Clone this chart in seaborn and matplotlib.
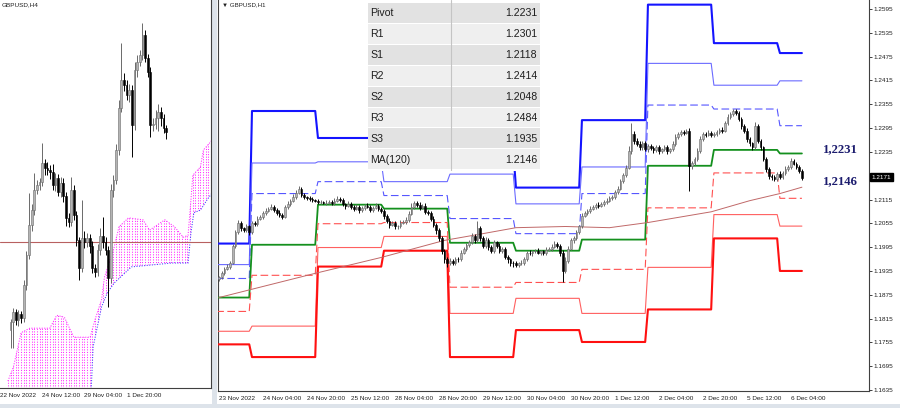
import numpy as np
import matplotlib
matplotlib.use("Agg")
import matplotlib.pyplot as plt
import matplotlib.transforms as mtransforms
from matplotlib.patches import Rectangle
import seaborn as sns

# ---- H1 chart (right), bar 0 = 23 Nov 12:00 ----
h1_open0 = 1.1915
h1_close = [
    1.1919, 1.1931, 1.1941, 1.1946, 1.1956, 1.1999, 1.2032, 1.2057, 1.2042, 1.2037, 1.2047, 1.2032,
    1.2057, 1.2054, 1.2067, 1.2072, 1.2082, 1.2087, 1.2092, 1.2097, 1.2089, 1.2082, 1.2077, 1.2072,
    1.2097, 1.2104, 1.2112, 1.2122, 1.2132, 1.2142, 1.2127, 1.2122, 1.2119, 1.2117, 1.2114, 1.2112,
    1.2109, 1.2109, 1.2107, 1.2107, 1.2109, 1.2107, 1.2112, 1.2117, 1.2114, 1.2104, 1.2099, 1.2104,
    1.2097, 1.2092, 1.2097, 1.2089, 1.2094, 1.2099, 1.2097, 1.2089, 1.2094, 1.2099, 1.2092, 1.2087,
    1.2074, 1.2062, 1.2052, 1.2057, 1.2047, 1.2049, 1.2057, 1.2059, 1.2064, 1.2079, 1.2097, 1.2107,
    1.2102, 1.2094, 1.2099, 1.2084, 1.2082, 1.2067, 1.2052, 1.2037, 1.2017, 1.1986, 1.1966, 1.1956,
    1.1961, 1.1956, 1.1966, 1.1964, 1.1981, 1.1991, 1.2001, 1.2007, 1.2022, 1.2012, 1.2042, 1.2017,
    1.1999, 1.2012, 1.1996, 1.1986, 1.2007, 1.1999, 1.1986, 1.1991, 1.1971, 1.1964, 1.1956, 1.1954,
    1.1951, 1.1954, 1.1956, 1.1966, 1.1981, 1.1979, 1.1984, 1.1986, 1.1981, 1.1984, 1.1979, 1.1989,
    1.1991, 1.1996, 1.2004, 1.1999, 1.1981, 1.1936, 1.1961, 1.1991, 1.2012, 1.2017, 1.2032, 1.2047,
    1.2074, 1.2082, 1.2087, 1.2092, 1.2097, 1.2102, 1.2099, 1.2104, 1.2109, 1.2112, 1.2119, 1.2122,
    1.2134, 1.2142, 1.2162, 1.2177, 1.2195, 1.2237, 1.2280, 1.2263, 1.2255, 1.2247, 1.2257, 1.2242,
    1.2250, 1.2245, 1.2240, 1.2247, 1.2237, 1.2242, 1.2247, 1.2237, 1.2242, 1.2255, 1.2273, 1.2280,
    1.2285, 1.2283, 1.2288, 1.2200, 1.2207, 1.2217, 1.2237, 1.2268, 1.2280, 1.2278, 1.2283, 1.2278,
    1.2280, 1.2285, 1.2290, 1.2288, 1.2308, 1.2323, 1.2330, 1.2338, 1.2333, 1.2318, 1.2300, 1.2288,
    1.2268, 1.2257, 1.2247, 1.2300, 1.2263, 1.2247, 1.2217, 1.2192, 1.2175, 1.2172, 1.2167, 1.2180,
    1.2172, 1.2182, 1.2192, 1.2197, 1.2212, 1.2205, 1.2197, 1.2187, 1.2170,
]
# wick lengths in pips
h1_wick_up = [
    4, 5, 3, 6, 4, 5, 6, 7, 5, 4, 6, 5,
    5, 4, 6, 5, 4, 6, 5, 7, 4, 5, 6, 4,
    5, 6, 4, 6, 7, 8, 5, 4, 3, 4, 5, 3,
    4, 5, 3, 6, 4, 5, 6, 7, 4, 5, 3, 6,
    5, 4, 6, 3, 5, 4, 6, 5, 4, 6, 5, 3,
    5, 4, 6, 5, 4, 3, 6, 5, 7, 6, 8, 5,
    4, 6, 5, 7, 4, 5, 6, 4, 5, 6, 4, 5,
    6, 4, 5, 3, 6, 5, 4, 6, 8, 7, 20, 6,
    5, 9, 6, 5, 7, 4, 6, 5, 4, 5, 3, 4,
    5, 4, 6, 5, 4, 6, 5, 4, 6, 5, 4, 6,
    5, 6, 7, 5, 4, 6, 8, 6, 5, 6, 7, 5,
    6, 5, 4, 6, 5, 4, 6, 5, 4, 6, 5, 4,
    6, 7, 5, 6, 8, 12, 28, 8, 6, 7, 5, 6,
    5, 6, 4, 5, 6, 4, 5, 6, 4, 7, 6, 5,
    4, 6, 5, 8, 6, 5, 7, 6, 5, 6, 7, 5,
    4, 6, 5, 7, 6, 8, 5, 6, 4, 5, 6, 5,
    6, 5, 4, 10, 6, 5, 4, 6, 5, 4, 6, 5,
    6, 5, 7, 6, 8, 5, 4, 6, 5,
]
h1_wick_dn = [
    5, 4, 6, 3, 5, 4, 6, 5, 7, 4, 5, 6,
    4, 6, 5, 4, 6, 5, 4, 3, 6, 5, 7, 5,
    4, 5, 6, 4, 5, 3, 6, 5, 4, 6, 5, 4,
    5, 6, 4, 5, 3, 6, 5, 4, 6, 5, 7, 4,
    6, 5, 4, 7, 5, 6, 4, 5, 6, 4, 5, 6,
    7, 6, 8, 5, 6, 7, 5, 4, 5, 6, 4, 5,
    6, 5, 4, 6, 5, 7, 6, 8, 7, 8, 10, 12,
    6, 7, 5, 6, 5, 4, 6, 5, 4, 6, 5, 7,
    6, 5, 7, 6, 5, 6, 5, 7, 6, 10, 9, 10,
    6, 5, 4, 6, 5, 4, 6, 5, 4, 6, 5, 4,
    5, 6, 4, 7, 8, 30, 6, 5, 4, 6, 5, 4,
    5, 4, 6, 5, 4, 6, 5, 4, 6, 5, 4, 5,
    6, 5, 4, 6, 5, 4, 7, 9, 6, 8, 7, 6,
    7, 6, 8, 5, 7, 6, 5, 8, 6, 5, 4, 5,
    6, 5, 4, 63, 8, 6, 5, 4, 6, 5, 4, 6,
    5, 6, 4, 5, 4, 6, 5, 4, 6, 5, 7, 6,
    7, 6, 8, 5, 6, 7, 6, 8, 9, 7, 6, 5,
    6, 5, 4, 6, 5, 4, 6, 5, 5,
]

# daily pivot levels (23 Nov ... 6 Dec), first bar of each day
day_start = [-1, 12, 36, 60, 84, 108, 132, 156, 180, 204]
last_bar = 212
lvl_p = [1.1868, 1.2001, 1.2102, 1.2092, 1.2006, 1.1986, 1.2014, 1.2200, 1.2240, 1.2231]
lvl_r1 = [1.1916, 1.2130, 1.2160, 1.2125, 1.2067, 1.2029, 1.2130, 1.2353, 1.2343, 1.2301]
lvl_r2 = [1.1951, 1.2207, 1.2210, 1.2160, 1.2179, 1.2104, 1.2197, 1.2458, 1.2403, 1.2414]
lvl_r3 = [1.2004, 1.2338, 1.2270, 1.2193, 1.2240, 1.2145, 1.2315, 1.2606, 1.2509, 1.2484]
lvl_s1 = [1.1833, 1.1924, 1.2054, 1.2057, 1.1894, 1.1906, 1.1939, 1.2094, 1.2182, 1.2118]
lvl_s2 = [1.1783, 1.1796, 1.1994, 1.2022, 1.1828, 1.1866, 1.1828, 1.1944, 1.2077, 1.2048]
lvl_s3 = [1.1750, 1.1718, 1.1946, 1.1986, 1.1718, 1.1786, 1.1756, 1.1838, 1.2017, 1.1935]

# MA(120) read at a few bars
ma_bar = [0, 35, 59, 82, 96, 108, 126, 142, 156, 179, 193, 204, 212]
ma_val = [1.1868, 1.1929, 1.1969, 1.2012, 1.2029, 1.2044, 1.2047, 1.2044, 1.2057, 1.2084, 1.2112, 1.2130, 1.2146]

h1_ticks = [0, 16, 32, 48, 64, 80, 96, 112, 128, 144, 160, 176, 192, 208]
h1_labels = ["23 Nov 2022", "24 Nov 04:00", "24 Nov 20:00", "25 Nov 12:00", "28 Nov 04:00",
             "28 Nov 20:00", "29 Nov 12:00", "30 Nov 04:00", "30 Nov 20:00", "1 Dec 12:00",
             "2 Dec 04:00", "2 Dec 20:00", "5 Dec 12:00", "6 Dec 04:00"]
# 1.2175 sits under the current price tag, so it is not labelled
price_ticks = [1.2595, 1.2535, 1.2475, 1.2415, 1.2355, 1.2295, 1.2235, 1.2115,
               1.2055, 1.1995, 1.1935, 1.1875, 1.1815, 1.1755, 1.1695, 1.1635]
last_price = 1.2171

table_names = ["Pivot", "R1", "S1", "R2", "S2", "R3", "S3", "MA(120)"]
table_values = ["1.2231", "1.2301", "1.2118", "1.2414", "1.2048", "1.2484", "1.1935", "1.2146"]

# ---- H4 chart (left), bar 44 = 1 Dec 20:00 ----
h4_open0 = 1.1869
h4_close = [
    1.1882, 1.1897, 1.1885, 1.1894, 1.1888, 1.1939, 1.1985, 1.2032, 1.2055, 1.2086,
    1.2094, 1.2099, 1.2128, 1.2120, 1.2117, 1.2114, 1.2094, 1.2105, 1.2083, 1.2097,
    1.2077, 1.2043, 1.2037, 1.2086, 1.2047, 1.2009, 1.1965, 1.2012, 1.2006, 1.2012,
    1.1999, 1.1965, 1.1959, 1.1993, 1.2015, 1.2006, 1.1993, 1.1950, 1.2086, 1.2102,
    1.2148, 1.2213, 1.2257, 1.2249, 1.2233, 1.2241, 1.2187, 1.2272, 1.2285, 1.2295,
    1.2326, 1.2291, 1.2269, 1.2187, 1.2188, 1.2198, 1.2207, 1.2198, 1.2182, 1.2176,
]
h4_wick_up = [4, 6, 5, 6, 4, 8, 6, 50, 10, 26, 8, 6, 31, 6, 10, 8, 12, 8, 6, 10,
              8, 6, 8, 20, 8, 6, 5, 59, 10, 8, 6, 8, 6, 10, 12, 29, 8, 6, 10, 8,
              10, 12, 57, 10, 8, 10, 8, 12, 10, 8, 19, 8, 6, 8, 10, 12, 12, 8, 6, 5]
h4_wick_dn = [28, 40, 8, 10, 8, 6, 8, 6, 10, 8, 6, 8, 6, 10, 8, 10, 8, 10, 6, 8,
              10, 12, 8, 6, 8, 10, 19, 6, 10, 8, 10, 8, 8, 6, 8, 10, 8, 45, 8, 10,
              6, 8, 6, 10, 8, 10, 50, 8, 10, 6, 8, 6, 8, 19, 10, 8, 20, 12, 8, 10]
h4_ticks = [-4, 12, 28, 44]
h4_labels = ["22 Nov 2022", "24 Nov 12:00", "29 Nov 04:00", "1 Dec 20:00"]
h4_hline = 1.2006

# Ichimoku cloud edges
kumo_top_bar = [-1, 1.1, 4, 7.3, 14.9, 17.5, 20.4, 24, 30.2, 32, 34.5, 35.6, 39.3, 41.1,
                44.7, 50.2, 52.7, 58.5, 62.2, 65.5, 67.3, 68.4, 69.1, 72, 73.1, 76.5]
kumo_top_val = [1.1790, 1.1812, 1.1865, 1.1872, 1.1872, 1.1892, 1.1889, 1.1858, 1.1858,
                1.1885, 1.1916, 1.1951, 1.1998, 1.2029, 1.2043, 1.2040, 1.2024, 1.2040,
                1.2029, 1.2013, 1.2016, 1.2071, 1.2109, 1.2122, 1.2148, 1.2164]
kumo_bot_bar = [-1, 29, 30.5, 31.3, 34.5, 36.7, 39.3, 45.8, 61.1, 67.3, 68.4, 69.5, 72, 74.5, 76.5]
kumo_bot_val = [1.1740, 1.1745, 1.1770, 1.1843, 1.1905, 1.1927, 1.1942, 1.1967, 1.1973,
                1.1973, 1.2020, 1.2051, 1.2055, 1.2071, 1.2082]


def draw_candles(ax, open0, closes, wup, wdn, width=0.6):
    closes = np.array(closes)
    opens = np.r_[open0, closes[:-1]]
    x = np.arange(len(closes))
    top = np.maximum(opens, closes)
    bot = np.minimum(opens, closes)
    high = top + np.array(wup) * 1e-4
    low = bot - np.array(wdn) * 1e-4
    bull = closes >= opens
    for m, face, edge in [(bull, "#b4b4b4", "#6a6a6a"), (~bull, "#000000", "#000000")]:
        ax.vlines(x[m], low[m], high[m], color=edge, lw=0.7, zorder=5)
        ax.bar(x[m], (top - bot)[m], bottom=bot[m], width=width, color=face,
               edgecolor=edge, lw=0.4, zorder=6)


def steps(values):
    xs, ys = [], []
    ends = day_start[1:] + [last_bar + 1]
    for s, e, v in zip(day_start, ends, values):
        xs += [s, e - 1]
        ys += [v, v]
    return xs, ys


def main():
    sns.set_style("white")
    plt.rcParams["font.family"] = ["Liberation Sans", "DejaVu Sans"]
    plt.rcParams["lines.scale_dashes"] = False

    W, H = 900, 408
    fig = plt.figure(figsize=(W / 100, H / 100), dpi=100)
    fig.patch.set_facecolor("white")

    # ---------------- right panel: H1 ----------------
    ax = fig.add_axes([218 / W, 17 / H, (869 - 218) / W, 391 / H])
    ax.set_xlim(-0.36, 236.4)
    ax.set_ylim(1.16325, 1.26177)

    levels = [
        (lvl_r3, "#1414ff", 1.5, "-"),
        (lvl_r2, "#6b6bff", 0.8, "-"),
        (lvl_r1, "#5656ff", 0.8, (0, (5.5, 2.5))),
        (lvl_p, "#14901e", 1.3, "-"),
        (lvl_s1, "#ff5050", 0.8, (0, (5.5, 2.5))),
        (lvl_s2, "#ff6060", 0.8, "-"),
        (lvl_s3, "#ff1010", 1.5, "-"),
    ]
    for vals, col, lw, ls in levels:
        xs, ys = steps(vals)
        sns.lineplot(x=xs, y=ys, ax=ax, color=col, lw=lw, linestyle=ls,
                     sort=False, estimator=None, zorder=3)
    sns.lineplot(x=ma_bar, y=ma_val, ax=ax, color="#c06868", lw=0.7,
                 sort=False, estimator=None, zorder=4)

    draw_candles(ax, h1_open0, h1_close, h1_wick_up, h1_wick_dn)

    ax.yaxis.tick_right()
    ax.set_yticks(price_ticks)
    ax.set_yticklabels([f"{v:.4f}" for v in price_ticks])
    ax.set_xticks(h1_ticks)
    ax.set_xticklabels(h1_labels, ha="left")
    ax.tick_params(axis="both", labelsize=4.6, colors="#202020", length=2, width=0.6, pad=1.5,
                   direction="out")
    ax.set_xlabel("")
    ax.set_ylabel("")
    ax.spines["top"].set_visible(False)
    for s in ["left", "right", "bottom"]:
        ax.spines[s].set_color("#404040")
        ax.spines[s].set_linewidth(0.8)

    # current price tag
    tr = mtransforms.blended_transform_factory(ax.transAxes, ax.transData)
    ax.text(1.004, last_price, f"{last_price:.4f}", transform=tr, ha="left", va="center",
            fontsize=4.6, color="white",
            bbox=dict(boxstyle="square,pad=0.25", fc="black", ec="black"))

    # level annotations
    for val, dy in [(lvl_p[-1], 3.2), (ma_val[-1], 4.3)]:
        ax.annotate(f"{val:.4f}".replace(".", ","), xy=(last_bar, val), xytext=(15, dy),
                    textcoords="offset points", ha="left", va="center", fontsize=9.2,
                    fontweight="bold", color="#1c1c6e", family="Liberation Serif")

    fig.text(222 / W, 1 - 5 / H, "\u25bc GBPUSD,H1", fontsize=4.4, color="#202020",
             va="center", ha="left", family=["Liberation Sans", "DejaVu Sans"])

    # ---------------- table ----------------
    tab = fig.add_axes([368 / W, 1 - 171 / H, 172 / W, 171 / H])
    tab.set_xlim(0, 172)
    tab.set_ylim(171, 0)
    tab.axis("off")
    tab.add_patch(Rectangle((0, 0), 172, 171, fc="white", ec="none"))
    rh = 20.9
    for k, (name, val) in enumerate(zip(table_names, table_values)):
        y0 = 3 + k * rh
        fc = "#e2e2e2" if k % 2 == 0 else "#efefef"
        tab.add_patch(Rectangle((0, y0), 172, rh - 1, fc=fc, ec="none"))
        tab.text(2, y0 + rh / 2, name, fontsize=7.6, color="#1e1e1e", va="center", ha="left")
        tab.text(169, y0 + rh / 2, val, fontsize=7.6, color="#1e1e1e", va="center", ha="right")
    tab.plot([83, 83], [0, 171], color="#c4c4c4", lw=0.8)

    # ---------------- left panel: H4 ----------------
    axl = fig.add_axes([0, 20 / H, 211 / W, 388 / H])
    axl.set_xlim(-0.73, 76.0)
    axl.set_ylim(1.17793, 1.23807)

    poly = axl.fill(kumo_top_bar + kumo_bot_bar[::-1], kumo_top_val + kumo_bot_val[::-1],
                    facecolor="none", edgecolor="none")[0]
    hatch = axl.vlines(np.arange(-1, 78), 1.16, 1.25, colors="#ff2cff", lw=0.75,
                       linestyles=[(0, (0.75, 1.1))], zorder=2)
    hatch.set_clip_path(poly)
    sns.lineplot(x=kumo_top_bar, y=kumo_top_val, ax=axl, color="#ff2cff", lw=0.75,
                 linestyle=(0, (0.75, 1.1)), sort=False, estimator=None, zorder=2)
    sns.lineplot(x=kumo_bot_bar[2:], y=kumo_bot_val[2:], ax=axl, color="#3a3aff", lw=0.75,
                 linestyle=(0, (0.75, 1.1)), sort=False, estimator=None, zorder=2)
    axl.axhline(h4_hline, color="#b86060", lw=0.8, zorder=3)

    draw_candles(axl, h4_open0, h4_close, h4_wick_up, h4_wick_dn, width=0.65)

    axl.set_yticks([])
    axl.set_xticks(h4_ticks)
    axl.set_xticklabels(h4_labels, ha="left")
    axl.tick_params(axis="x", labelsize=4.6, colors="#202020", length=2, width=0.6, pad=1.5)
    axl.set_xlabel("")
    axl.set_ylabel("")
    for s in ["top", "left"]:
        axl.spines[s].set_visible(False)
    for s in ["right", "bottom"]:
        axl.spines[s].set_color("#404040")
        axl.spines[s].set_linewidth(0.8)
    fig.text(2 / W, 1 - 5 / H, "GBPUSD,H4", fontsize=4.6, color="#202020", va="center", ha="left")

    # window chrome: separator and bottom strip
    fig.patches.append(Rectangle((212 / W, 0), 5 / W, 1, transform=fig.transFigure,
                                 fc="#dde3ea", ec="none", zorder=-1))
    fig.patches.append(Rectangle((0, 0), 1, 4 / H, transform=fig.transFigure,
                                 fc="#dde3ea", ec="none", zorder=-1))

    fig.savefig("out.png", dpi=100)


if __name__ == "__main__":
    main()
